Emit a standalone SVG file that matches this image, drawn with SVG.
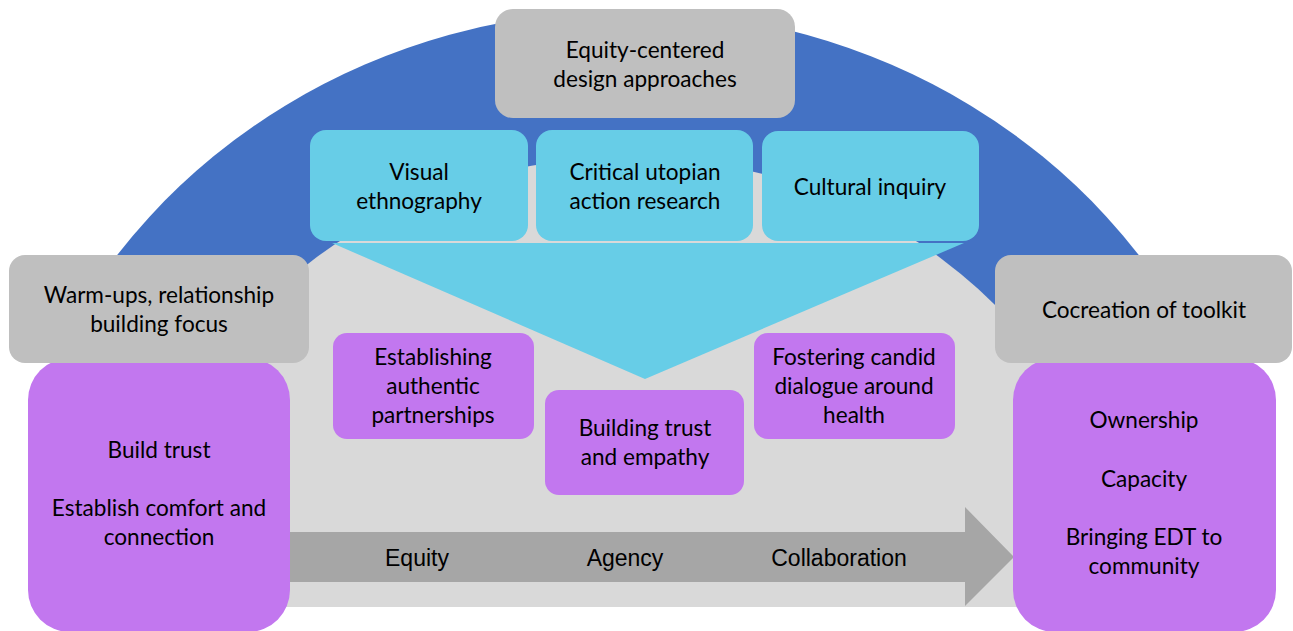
<svg xmlns="http://www.w3.org/2000/svg" width="1293" height="631" viewBox="0 0 1293 631">
  <style>
    .lbl { font-family: Lato, "Open Sans", sans-serif; font-size: 22.6px; fill: #000; text-anchor: middle; }
    .flow { font-family: "Liberation Sans", Arial, sans-serif; font-size: 23px; fill: #000; text-anchor: middle; }
    .gray { fill: #BFBFBF; }
    .cyan { fill: #67CDE7; }
    .purple { fill: #C277EF; }
  </style>

  <rect width="1293" height="631" fill="#FFFFFF"/>

  <!-- outer blue arch and the light interior -->
  <g id="arch">
    <path d="M 52 360 A 633 597 0 0 1 1204 360 Z" fill="#4472C4"/>
    <path d="M 133 607 A 495 450 0 0 1 1123 607 Z" fill="#D9D9D9"/>
  </g>

  <!-- funnel from the three methods down to the outcomes -->
  <g id="funnel">
    <polygon points="332,243 964,243 645,379" class="cyan"/>
  </g>

  <!-- process arrow along the base -->
  <g id="connectors">
    <polygon points="288,532 965,532 965,507 1014,557 965,606 965,582 288,582" fill="#A6A6A6"/>
    <text class="flow" x="417" y="566">Equity</text>
    <text class="flow" x="625" y="566">Agency</text>
    <text class="flow" x="839" y="566">Collaboration</text>
  </g>

  <g id="approaches">
    <rect x="495" y="9" width="300" height="109" rx="18" class="gray"/>
    <text class="lbl" x="645" y="58">Equity-centered</text>
    <text class="lbl" x="645" y="87">design approaches</text>
  </g>

  <g id="visual-ethnography">
    <rect x="310" y="130" width="218" height="111" rx="16" class="cyan"/>
    <text class="lbl" x="419" y="180">Visual</text>
    <text class="lbl" x="419" y="209">ethnography</text>
  </g>

  <g id="critical-utopian">
    <rect x="536" y="130" width="217" height="111" rx="16" class="cyan"/>
    <text class="lbl" x="645" y="180">Critical utopian</text>
    <text class="lbl" x="645" y="209">action research</text>
  </g>

  <g id="cultural-inquiry">
    <rect x="762" y="131" width="217" height="110" rx="16" class="cyan"/>
    <text class="lbl" x="870" y="195">Cultural inquiry</text>
  </g>

  <g id="partnerships">
    <rect x="333" y="333" width="201" height="106" rx="14" class="purple"/>
    <text class="lbl" x="433" y="365">Establishing</text>
    <text class="lbl" x="433" y="394">authentic</text>
    <text class="lbl" x="433" y="423">partnerships</text>
  </g>

  <g id="trust-empathy">
    <rect x="545" y="390" width="199" height="105" rx="14" class="purple"/>
    <text class="lbl" x="645" y="436">Building trust</text>
    <text class="lbl" x="645" y="465">and empathy</text>
  </g>

  <g id="candid-dialogue">
    <rect x="754" y="333" width="201" height="106" rx="14" class="purple"/>
    <text class="lbl" x="854" y="365">Fostering candid</text>
    <text class="lbl" x="854" y="394">dialogue around</text>
    <text class="lbl" x="854" y="423">health</text>
  </g>

  <g id="start-outcomes">
    <rect x="28" y="358" width="262" height="274" rx="42" class="purple"/>
    <text class="lbl" x="159" y="458">Build trust</text>
    <text class="lbl" x="159" y="516">Establish comfort and</text>
    <text class="lbl" x="159" y="545">connection</text>
  </g>

  <g id="warm-ups">
    <rect x="9" y="255" width="300" height="108" rx="16" class="gray"/>
    <text class="lbl" x="159" y="303">Warm-ups, relationship</text>
    <text class="lbl" x="159" y="332">building focus</text>
  </g>

  <g id="end-outcomes">
    <rect x="1013" y="358" width="263" height="274" rx="42" class="purple"/>
    <text class="lbl" x="1144" y="428">Ownership</text>
    <text class="lbl" x="1144" y="487">Capacity</text>
    <text class="lbl" x="1144" y="545">Bringing EDT to</text>
    <text class="lbl" x="1144" y="574">community</text>
  </g>

  <g id="cocreation">
    <rect x="995" y="255" width="297" height="108" rx="16" class="gray"/>
    <text class="lbl" x="1144" y="318">Cocreation of toolkit</text>
  </g>
</svg>
